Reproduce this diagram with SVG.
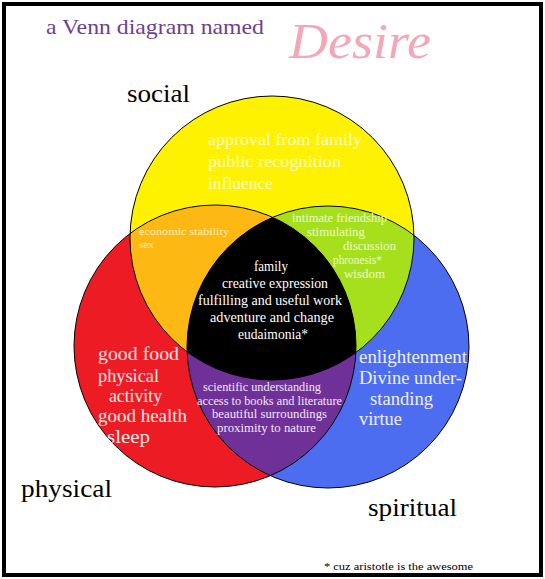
<svg xmlns="http://www.w3.org/2000/svg" width="545" height="579" viewBox="0 0 545 579" font-family="'Liberation Serif', 'Times New Roman', 'DejaVu Serif', serif">
<style>
.outline{fill:none;stroke:#000;stroke-width:1}
text{font-family:'Liberation Serif','Times New Roman',serif}
</style>
<defs>
<clipPath id="cy"><circle cx="272" cy="238" r="142"/></clipPath>
<clipPath id="cr"><circle cx="215" cy="346" r="141"/></clipPath>
</defs>
<rect width="545" height="579" fill="#fff"/>
<rect x="4" y="4" width="537" height="571" fill="none" stroke="#000" stroke-width="4"/>
<g id="title">
<text x="46" y="34" font-size="22" fill="#6f3f8f" textLength="218" lengthAdjust="spacingAndGlyphs">a Venn diagram named</text>
<text x="289" y="58" font-size="50" font-style="italic" fill="#f4a7b6" textLength="142" lengthAdjust="spacingAndGlyphs">Desire</text>
</g>
<g id="circles">
<circle id="physical-circle" cx="215" cy="346" r="141" fill="#ed1c24"/>
<circle id="spiritual-circle" cx="328" cy="347" r="141" fill="#4d6df0"/>
<circle id="social-circle" cx="272" cy="238" r="142" fill="#fff200"/>
<g clip-path="url(#cy)"><circle cx="215" cy="346" r="141" fill="#fdb813"/></g>
<g clip-path="url(#cy)"><circle cx="328" cy="347" r="141" fill="#a6e01c"/></g>
<g clip-path="url(#cr)"><circle cx="328" cy="347" r="141" fill="#6f3198"/></g>
<g clip-path="url(#cy)"><g clip-path="url(#cr)"><circle cx="328" cy="347" r="141" fill="#000"/></g></g>
<circle class="outline" cx="215" cy="346" r="141"/>
<circle class="outline" cx="328" cy="347" r="141"/>
<circle class="outline" cx="272" cy="238" r="142"/>
</g>
<g id="labels" font-size="26" fill="#000">
<text x="127" y="102" textLength="63" lengthAdjust="spacingAndGlyphs">social</text>
<text x="21" y="497" textLength="91" lengthAdjust="spacingAndGlyphs">physical</text>
<text x="368" y="516" textLength="89" lengthAdjust="spacingAndGlyphs">spiritual</text>
<text x="324" y="570" font-size="11" textLength="149" lengthAdjust="spacingAndGlyphs">* cuz aristotle is the awesome</text>
</g>
<g id="social-only" font-size="17" fill="#fffcc0">
<text x="208" y="145" textLength="154" lengthAdjust="spacingAndGlyphs">approval from family</text>
<text x="208" y="167" textLength="133" lengthAdjust="spacingAndGlyphs">public recognition</text>
<text x="208" y="189" textLength="65" lengthAdjust="spacingAndGlyphs">influence</text>
</g>
<g id="social-physical" font-size="11" fill="#ffeebb">
<text x="139" y="235" textLength="90" lengthAdjust="spacingAndGlyphs">economic stability</text>
<text x="139" y="248" textLength="15" lengthAdjust="spacingAndGlyphs">sex</text>
</g>
<g id="social-spiritual" font-size="11.5" fill="#eefacc">
<text x="292" y="222" textLength="95" lengthAdjust="spacingAndGlyphs">intimate friendship</text>
<text x="307" y="236" textLength="58" lengthAdjust="spacingAndGlyphs">stimulating</text>
<text x="343" y="250" textLength="53" lengthAdjust="spacingAndGlyphs">discussion</text>
<text x="333" y="264" textLength="49" lengthAdjust="spacingAndGlyphs">phronesis*</text>
<text x="344" y="278" textLength="41" lengthAdjust="spacingAndGlyphs">wisdom</text>
</g>
<g id="center" font-size="14" fill="#fff">
<text x="254" y="271" textLength="34" lengthAdjust="spacingAndGlyphs">family</text>
<text x="222" y="288" textLength="106" lengthAdjust="spacingAndGlyphs">creative expression</text>
<text x="198" y="305" textLength="144" lengthAdjust="spacingAndGlyphs">fulfilling and useful work</text>
<text x="210" y="322" textLength="124" lengthAdjust="spacingAndGlyphs">adventure and change</text>
<text x="238" y="339" textLength="70" lengthAdjust="spacingAndGlyphs">eudaimonia*</text>
</g>
<g id="physical-only" font-size="18" fill="#ffe6e6">
<text x="98" y="360" textLength="81" lengthAdjust="spacingAndGlyphs">good food</text>
<text x="98" y="382" textLength="61" lengthAdjust="spacingAndGlyphs">physical</text>
<text x="109" y="402" textLength="53" lengthAdjust="spacingAndGlyphs">activity</text>
<text x="98" y="422" textLength="89" lengthAdjust="spacingAndGlyphs">good health</text>
<text x="107" y="443" textLength="43" lengthAdjust="spacingAndGlyphs">sleep</text>
</g>
<g id="physical-spiritual" font-size="11.5" fill="#f0e6f6">
<text x="203" y="391" textLength="118" lengthAdjust="spacingAndGlyphs">scientific understanding</text>
<text x="197" y="405" textLength="145" lengthAdjust="spacingAndGlyphs">access to books and literature</text>
<text x="212" y="418" textLength="115" lengthAdjust="spacingAndGlyphs">beautiful surroundings</text>
<text x="217" y="432" textLength="99" lengthAdjust="spacingAndGlyphs">proximity to nature</text>
</g>
<g id="spiritual-only" font-size="18" fill="#eef0ff">
<text x="359" y="363" textLength="108" lengthAdjust="spacingAndGlyphs">enlightenment</text>
<text x="359" y="384" textLength="103" lengthAdjust="spacingAndGlyphs">Divine under-</text>
<text x="370" y="405" textLength="63" lengthAdjust="spacingAndGlyphs">standing</text>
<text x="359" y="425" textLength="43" lengthAdjust="spacingAndGlyphs">virtue</text>
</g>
</svg>
